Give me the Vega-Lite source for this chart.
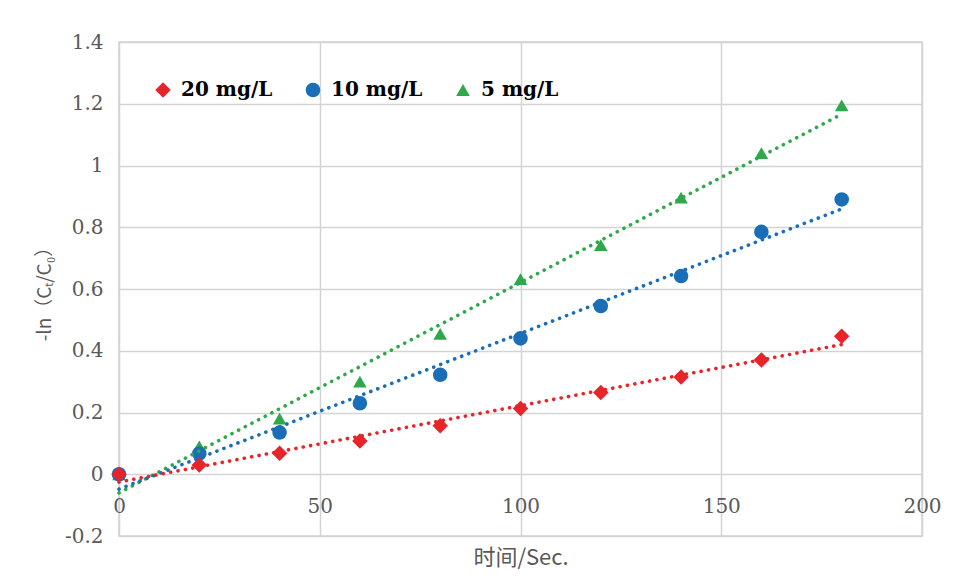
{
  "$schema": "https://vega.github.io/schema/vega-lite/v6.json",
  "width": 803,
  "height": 494,
  "autosize": {"type": "none"},
  "padding": {"left": 119, "top": 42, "right": 39, "bottom": 48},
  "background": "white",
  "config": {
    "view": {"stroke": "#d4d4d4", "strokeWidth": 1.5},
    "axis": {"gridColor": "#d4d4d4", "gridWidth": 1.5, "labelFont": "DejaVu Serif", "labelFontSize": 20, "labelColor": "#595959", "titleFont": "Noto Sans CJK SC", "titleFontWeight": "normal", "titleColor": "#595959"}
  },
  "data": {"values": [
    {"t": 0, "v": 0, "series": "5 mg/L"},
    {"t": 20, "v": 0.09, "series": "5 mg/L"},
    {"t": 40, "v": 0.18, "series": "5 mg/L"},
    {"t": 60, "v": 0.3, "series": "5 mg/L"},
    {"t": 80, "v": 0.455, "series": "5 mg/L"},
    {"t": 100, "v": 0.632, "series": "5 mg/L"},
    {"t": 120, "v": 0.742, "series": "5 mg/L"},
    {"t": 140, "v": 0.896, "series": "5 mg/L"},
    {"t": 160, "v": 1.04, "series": "5 mg/L"},
    {"t": 180, "v": 1.195, "series": "5 mg/L"},
    {"t": 0, "v": 0, "series": "10 mg/L"},
    {"t": 20, "v": 0.067, "series": "10 mg/L"},
    {"t": 40, "v": 0.135, "series": "10 mg/L"},
    {"t": 60, "v": 0.23, "series": "10 mg/L"},
    {"t": 80, "v": 0.322, "series": "10 mg/L"},
    {"t": 100, "v": 0.44, "series": "10 mg/L"},
    {"t": 120, "v": 0.545, "series": "10 mg/L"},
    {"t": 140, "v": 0.642, "series": "10 mg/L"},
    {"t": 160, "v": 0.785, "series": "10 mg/L"},
    {"t": 180, "v": 0.89, "series": "10 mg/L"},
    {"t": 0, "v": 0, "series": "20 mg/L"},
    {"t": 20, "v": 0.03, "series": "20 mg/L"},
    {"t": 40, "v": 0.068, "series": "20 mg/L"},
    {"t": 60, "v": 0.108, "series": "20 mg/L"},
    {"t": 80, "v": 0.157, "series": "20 mg/L"},
    {"t": 100, "v": 0.213, "series": "20 mg/L"},
    {"t": 120, "v": 0.265, "series": "20 mg/L"},
    {"t": 140, "v": 0.315, "series": "20 mg/L"},
    {"t": 160, "v": 0.37, "series": "20 mg/L"},
    {"t": 180, "v": 0.447, "series": "20 mg/L"}
  ]},
  "resolve": {"axis": {"x": "independent"}},
  "layer": [
    {
      "mark": {"type": "point", "filled": true, "opacity": 1},
      "encoding": {
        "x": {"field": "t", "type": "quantitative", "scale": {"domain": [0, 200], "nice": false},
          "axis": {"orient": "bottom", "grid": true, "labels": false, "ticks": false, "domain": false, "title": null, "tickCount": 4}},
        "y": {"field": "v", "type": "quantitative", "scale": {"domain": [-0.2, 1.4], "nice": false},
          "axis": {"grid": true, "ticks": false, "domain": false, "tickCount": 8, "labelPadding": 16, "labelFlush": false,
            "labelExpr": "replace(format(datum.value, '.1~f'), '−', '-')",
            "title": "-ln（Cₜ/C₀）", "titleFontSize": 19, "titlePadding": 10}},
        "color": {"field": "series", "type": "nominal",
          "scale": {"domain": ["20 mg/L", "10 mg/L", "5 mg/L"], "range": ["#e62429", "#1a6eb8", "#2da84a"]},
          "legend": {"orient": "none", "legendX": 34, "legendY": 38, "direction": "horizontal", "title": null,
            "symbolSize": 280, "labelFont": "DejaVu Serif", "labelFontWeight": "bold", "labelFontSize": 20,
            "labelOffset": 8, "columnPadding": 30, "symbolStrokeWidth": 0,
            "encode": {"labels": {"update": {"fill": {"signal": "scale('color', datum.value)"}}}}}},
        "shape": {"field": "series", "type": "nominal",
          "scale": {"domain": ["20 mg/L", "10 mg/L", "5 mg/L"], "range": ["diamond", "circle", "triangle-up"]}},
        "size": {"field": "series", "type": "nominal",
          "scale": {"domain": ["20 mg/L", "10 mg/L", "5 mg/L"], "range": [240, 185, 180]}, "legend": null}
      }
    },
    {
      "transform": [{"regression": "v", "on": "t", "groupby": ["series"], "extent": [0, 180]}],
      "mark": {"type": "line", "strokeWidth": 3.6, "strokeCap": "round", "strokeDash": [0.1, 7.4]},
      "encoding": {
        "x": {"field": "t", "type": "quantitative",
          "axis": {"orient": "bottom", "grid": false, "ticks": false, "domain": false, "offset": -62, "labelPadding": 22, "labelFlush": false, "tickCount": 4, "format": "d",
            "title": "时间/Sec.", "titleFontSize": 22, "titlePadding": 31}},
        "y": {"field": "v", "type": "quantitative"},
        "color": {"field": "series", "type": "nominal"}
      }
    }
  ]
}
